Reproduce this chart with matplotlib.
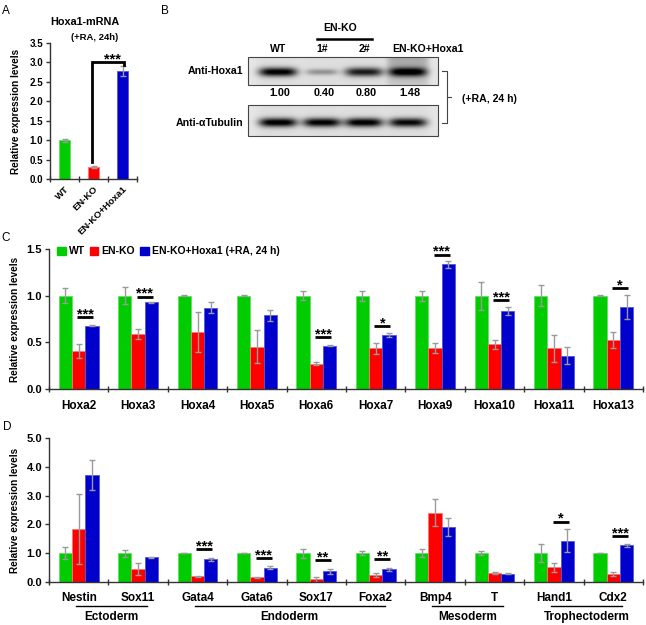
import numpy as np
import matplotlib
matplotlib.use('Agg')
import matplotlib.pyplot as plt
from matplotlib.patches import Patch
from matplotlib.transforms import blended_transform_factory

plt.rcParams['font.family'] = ['Liberation Sans', 'DejaVu Sans']
plt.rcParams['font.weight'] = 'bold'

# ---------------- data ----------------
GREEN, RED, BLUE, ERR = '#00CC00', '#FF0000', '#0000CC', '#9a9a9a'
EDGE = {GREEN: '#66dd66', RED: '#ff7777', BLUE: '#5555dd'}

# Panel A
a_groups = ['WT', 'EN-KO', 'EN-KO+Hoxa1']
a_vals = [1.00, 0.31, 2.78]
a_errs = [0.04, 0.02, 0.14]
a_colors = [GREEN, RED, BLUE]
a_yticks = [0.0, 0.5, 1.0, 1.5, 2.0, 2.5, 3.0, 3.5]

# Panel B (western blot)
b_lanes = ['WT', '1#', '2#', 'EN-KO+Hoxa1']
b_quant = ['1.00', '0.40', '0.80', '1.48']
b_hoxa1_dark = [0.92, 0.30, 0.78, 0.85]
b_tub_dark = [0.93, 0.90, 0.92, 0.86]

# Panel C
c_genes = ['Hoxa2', 'Hoxa3', 'Hoxa4', 'Hoxa5', 'Hoxa6', 'Hoxa7', 'Hoxa9', 'Hoxa10', 'Hoxa11', 'Hoxa13']
c_wt = [1.0, 1.0, 1.0, 1.0, 1.0, 1.0, 1.0, 1.0, 1.0, 1.0]
c_wt_err = [0.08, 0.09, 0.005, 0.005, 0.05, 0.055, 0.055, 0.15, 0.11, 0.003]
c_ko = [0.41, 0.59, 0.61, 0.455, 0.27, 0.435, 0.44, 0.48, 0.435, 0.525]
c_ko_err = [0.075, 0.05, 0.21, 0.18, 0.015, 0.06, 0.05, 0.05, 0.145, 0.085]
c_res = [0.68, 0.93, 0.87, 0.79, 0.465, 0.575, 1.335, 0.835, 0.355, 0.88]
c_res_err = [0.005, 0.005, 0.06, 0.06, 0.005, 0.02, 0.035, 0.045, 0.09, 0.13]
c_sig = [(0, 0.77, '***'), (1, 0.99, '***'), (4, 0.555, '***'), (5, 0.67, '*'),
         (6, 1.44, '***'), (7, 0.955, '***'), (9, 1.08, '*')]
c_yticks = [0.0, 0.5, 1.0, 1.5]

# Panel D
d_genes = ['Nestin', 'Sox11', 'Gata4', 'Gata6', 'Sox17', 'Foxa2', 'Bmp4', 'T', 'Hand1', 'Cdx2']
d_wt = [1.0, 1.0, 1.0, 1.0, 1.0, 1.0, 1.0, 1.0, 1.0, 1.0]
d_wt_err = [0.2, 0.12, 0.01, 0.01, 0.15, 0.06, 0.14, 0.06, 0.31, 0.01]
d_ko = [1.85, 0.45, 0.20, 0.16, 0.10, 0.25, 2.41, 0.31, 0.51, 0.27]
d_ko_err = [1.22, 0.20, 0.01, 0.02, 0.09, 0.06, 0.46, 0.04, 0.16, 0.07]
d_res = [3.70, 0.86, 0.79, 0.50, 0.37, 0.44, 1.90, 0.29, 1.44, 1.27]
d_res_err = [0.52, 0.02, 0.05, 0.05, 0.09, 0.05, 0.31, 0.01, 0.39, 0.06]
d_sig = [(2, 1.13, '***'), (3, 0.83, '***'), (4, 0.75, '**'), (5, 0.79, '**'),
         (8, 2.10, '*'), (9, 1.60, '***')]
d_layers = [('Ectoderm', 0, 1), ('Endoderm', 2, 5), ('Mesoderm', 6, 7), ('Trophectoderm', 8, 9)]
d_yticks = [0.0, 1.0, 2.0, 3.0, 4.0, 5.0]

# ---------------- figure ----------------
W, H = 646, 625
fig = plt.figure(figsize=(W / 100, H / 100), dpi=100)
fig.patch.set_facecolor('white')


def add_ax(l, t, r, b):
    return fig.add_axes([l / W, 1 - b / H, (r - l) / W, (b - t) / H])


# overlay in pixel coordinates for free text / blot
ov = fig.add_axes([0, 0, 1, 1])
ov.set_xlim(0, W)
ov.set_ylim(H, 0)
ov.axis('off')


def style(ax, ncat, ylim, yticks, labels, fs, pad, rot=0):
    ax.set_xlim(0, ncat)
    ax.set_ylim(*ylim)
    for s in ['top', 'right']:
        ax.spines[s].set_visible(False)
    for s in ['left', 'bottom']:
        ax.spines[s].set_color('#333333')
        ax.spines[s].set_linewidth(1.0)
    ax.set_yticks(yticks)
    ax.set_yticklabels(['%.1f' % v for v in yticks], fontsize=fs, fontweight='bold')
    ax.set_xticks(np.arange(ncat) + 0.5)
    if rot:
        ax.set_xticklabels(labels, fontsize=6.8, fontweight='bold', rotation=rot,
                           ha='right', rotation_mode='anchor')
    else:
        ax.set_xticklabels(labels, fontsize=8.5, fontweight='bold')
    ax.set_xticks(np.arange(ncat + 1), minor=True)
    ax.tick_params(axis='x', which='major', length=0, pad=pad)
    ax.tick_params(axis='x', which='minor', length=5, direction='inout', width=1, color='#333333')
    ax.tick_params(axis='y', which='major', length=3, direction='out', width=1, color='#333333', pad=2)
    ax.patch.set_alpha(0)


ekw = dict(ecolor=ERR, elinewidth=1.0, capsize=2.0, capthick=1.0)


def stars(ax, x, y, s):
    ax.annotate(s, (x, y), xytext=(0, -0.8), textcoords='offset points', ha='center',
                va='baseline', fontsize=10.5, fontweight='bold', zorder=3)


# ---------- Panel A ----------
axA = add_ax(50, 43, 137, 179)
xa = np.arange(len(a_vals)) + 0.5
axA.bar(xa, a_vals, width=0.41, color=a_colors, edgecolor=[EDGE[c] for c in a_colors],
        linewidth=0.6, yerr=a_errs, error_kw=ekw, zorder=2)
style(axA, 3, (0, 3.5), a_yticks, a_groups, 7, 4, rot=45)
axA.plot([1.45, 1.45, 2.55, 2.55], [0.45, 3.0, 3.0, 2.94], color='black', lw=2.0,
         solid_joinstyle='miter', zorder=3)
stars(axA, 2.15, 3.0, '***')
ov.text(85, 22, 'Hoxa1-mRNA', ha='center', va='center', fontsize=7.8, fontweight='bold')
ov.text(95, 37, '(+RA, 24h)', ha='center', va='center', fontsize=6.8, fontweight='bold')
ov.text(16, 111, 'Relative expression levels', rotation=90, ha='center', va='center',
        fontsize=7.2, fontweight='bold')

# ---------- Panel B (blot) ----------
lane_cx = [278, 322, 364, 408]   # lane centers (pixels)


def blot(x0, x1, y0, y1, dark, band_y, band_hh, bg_extra=None):
    nx, ny = (x1 - x0) * 3, (y1 - y0) * 3
    xs = np.linspace(x0, x1, nx)
    ys = np.linspace(y0, y1, ny)
    X, Y = np.meshgrid(xs, ys)
    img = np.full_like(X, 0.90)
    for cx in lane_cx:
        img -= 0.03 * np.exp(-((X - cx) / 22.0) ** 6)
    if bg_extra is not None:
        cx, amt = bg_extra
        img -= amt * np.exp(-((X - cx) / 21.0) ** 8) * (1 - 0.6 * (Y - y0) / (y1 - y0))
    for cx, d in zip(lane_cx, dark):
        hw = 19.0 if d > 0.5 else 16.0
        hh = band_hh if d > 0.5 else band_hh * 0.7
        prof = np.exp(-(np.abs(X - cx) / hw) ** 4) * np.exp(-((Y - band_y) / hh) ** 2)
        img -= d * prof
    img = np.clip(img, 0, 1)
    ov.imshow(img, cmap='gray', vmin=0, vmax=1, extent=(x0, x1, y1, y0),
              aspect='auto', interpolation='bilinear', zorder=1)
    ov.add_patch(plt.Rectangle((x0, y0), x1 - x0, y1 - y0, fill=False,
                               edgecolor='#444444', lw=0.8, zorder=2))


blot(248, 438, 57, 85, b_hoxa1_dark, 72, 4.5, bg_extra=(408, 0.22))
blot(248, 438, 105, 136, b_tub_dark, 122.5, 4.5)
ov.set_xlim(0, W)
ov.set_ylim(H, 0)

for cx, lab in zip(lane_cx, b_lanes):
    ov.text(cx if lab != 'EN-KO+Hoxa1' else 428, 49, lab, ha='center', va='center',
            fontsize=7.6, fontweight='bold')
for cx, q in zip(lane_cx, b_quant):
    ov.text(cx + 2, 93, q, ha='center', va='center', fontsize=7.8, fontweight='bold')
ov.text(340, 28, 'EN-KO', ha='center', va='center', fontsize=7.6, fontweight='bold')
ov.plot([317, 372], [39, 39], color='black', lw=1.8)
ov.text(243, 71, 'Anti-Hoxa1', ha='right', va='center', fontsize=7.6, fontweight='bold')
ov.text(243, 123, 'Anti-\u03b1Tubulin', ha='right', va='center', fontsize=7.6, fontweight='bold')
ov.plot([442, 447, 447, 442], [71, 71, 123, 123], color='#444444', lw=0.8)
ov.plot([447, 451], [97, 97], color='#444444', lw=0.8)
ov.text(462, 99, '(+RA, 24 h)', ha='left', va='center', fontsize=7.6, fontweight='bold')


# ---------- grouped bar helper ----------
def grouped(ax, wt, wte, ko, koe, res, rese, sig):
    n = len(wt)
    x = np.arange(n) + 0.5
    bw = 0.224
    for off, vals, errs, col in [(-bw, wt, wte, GREEN), (0, ko, koe, RED), (bw, res, rese, BLUE)]:
        ax.bar(x + off, vals, width=bw, color=col, edgecolor=EDGE[col], linewidth=0.6,
               yerr=errs, error_kw=ekw, zorder=2)
    for i, y, s in sig:
        c = i + 0.5 + bw / 2
        ax.plot([c - 0.135, c + 0.135], [y, y], color='black', lw=2.0, solid_capstyle='butt', zorder=3)
        stars(ax, c, y, s)


# ---------- Panel C ----------
axC = add_ax(49, 249, 643, 389)
grouped(axC, c_wt, c_wt_err, c_ko, c_ko_err, c_res, c_res_err, c_sig)
style(axC, 10, (0, 1.5), c_yticks, c_genes, 8, 8)
handles = [Patch(color=GREEN, label='WT'), Patch(color=RED, label='EN-KO'),
           Patch(color=BLUE, label='EN-KO+Hoxa1 (+RA, 24 h)')]
axC.legend(handles=handles, loc='upper left', bbox_to_anchor=(0.014, 1.02), ncol=3,
           frameon=False, handlelength=0.8, handleheight=0.8,
           handletextpad=0.3, columnspacing=0.5, borderpad=0, borderaxespad=0,
           prop={'weight': 'bold', 'size': 7.5})
ov.text(15, 319, 'Relative expression levels', rotation=90, ha='center', va='center',
        fontsize=7.2, fontweight='bold')

# ---------- Panel D ----------
axD = add_ax(49, 438, 643, 582)
grouped(axD, d_wt, d_wt_err, d_ko, d_ko_err, d_res, d_res_err, d_sig)
style(axD, 10, (0, 5.0), d_yticks, d_genes, 8, 7)
ov.text(15, 510, 'Relative expression levels', rotation=90, ha='center', va='center',
        fontsize=7.2, fontweight='bold')
tr = blended_transform_factory(axD.transData, ov.transData)
for name, i0, i1 in d_layers:
    x0, x1 = i0 + 0.45, i1 + 0.65
    ov.plot([x0, x1], [606, 606], color='black', lw=1.0, transform=tr)
    ov.text((x0 + x1) / 2, 617, name, ha='center', va='center', fontsize=8.5,
            fontweight='bold', transform=tr)

# panel letters
for lab, x, y in [('A', 6, 11), ('B', 165, 11), ('C', 6, 238), ('D', 7, 427)]:
    ov.text(x, y, lab, ha='center', va='center', fontsize=8.5, fontweight='normal')

fig.savefig('out.png', dpi=100, facecolor='white')
